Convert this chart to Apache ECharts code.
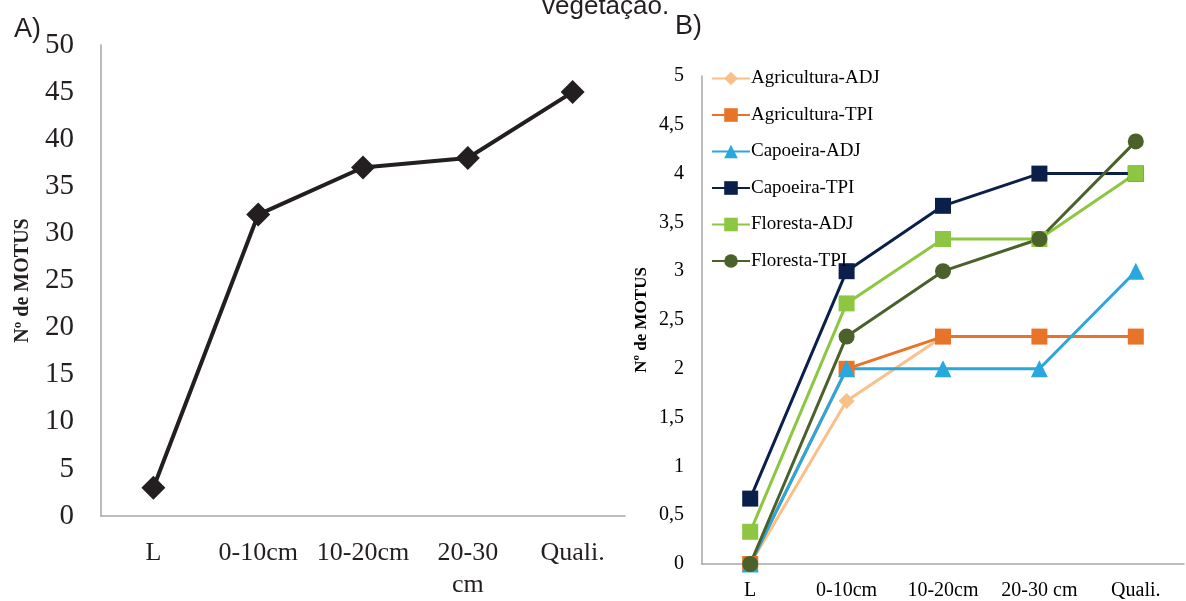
<!DOCTYPE html>
<html>
<head>
<meta charset="utf-8">
<script src="https://cdn.jsdelivr.net/npm/echarts@6/dist/echarts.min.js"></script>
<style>
html, body { margin: 0; padding: 0; background: #fff; }
#main { width: 1186px; height: 601px; }
</style>
</head>
<body>
<div id="main"></div>
<script>
// A) total de MOTUs
var catA = [ 'L', '0-10cm', '10-20cm', '20-30\ncm', 'Quali.' ];
var dataA = [ 3, 32, 37, 38, 45 ];

// B) por vegetação
var catB = [ 'L', '0-10cm', '10-20cm', '20-30 cm', 'Quali.' ];
var names = [ 'Agricultura-ADJ', 'Agricultura-TPI', 'Capoeira-ADJ', 'Capoeira-TPI', 'Floresta-ADJ', 'Floresta-TPI' ];
var agriADJ = [ 0, 1.67, 2.33, 2.33, 2.33 ];
var agriTPI = [ 0, 2, 2.33, 2.33, 2.33 ];
var capADJ = [ 0, 2, 2, 2, 3 ];
var capTPI = [ 0.67, 3, 3.67, 4, 4 ];
var florADJ = [ 0.33, 2.67, 3.33, 3.33, 4 ];
var florTPI = [ 0, 2.33, 3, 3.33, 4.33 ];

var serif = '"Liberation Serif", "DejaVu Serif", serif';
var sans = '"Liberation Sans", Arial, sans-serif';
var axisGray = '#a6a6a6';

var myChart = echarts.init(document.getElementById('main'));

function lineB(name, data, color, symbol, size) {
	return {
		name : name,
		type : 'line',
		xAxisIndex : 1,
		yAxisIndex : 1,
		data : data,
		symbol : symbol,
		symbolSize : size,
		lineStyle : { color : color, width : 3 },
		itemStyle : { color : color },
		animation : false
	};
}

var option = {
	textStyle : { fontFamily : serif },
	title : [ {
		text : 'vegetação.',
		left : 537,
		top : -11,
		textStyle : { fontFamily : sans, fontSize : 26, fontWeight : 'normal', color : '#231f20' }
	}, {
		text : 'A)',
		left : 9,
		top : 11,
		textStyle : { fontFamily : sans, fontSize : 27, fontWeight : 'normal', color : '#231f20' }
	}, {
		text : 'B)',
		left : 670,
		top : 8,
		textStyle : { fontFamily : sans, fontSize : 27, fontWeight : 'normal', color : '#231f20' }
	} ],
	legend : {
		data : names,
		orient : 'vertical',
		left : 706,
		top : 64,
		itemGap : 17.5,
		itemWidth : 38,
		itemHeight : 17,
		textStyle : { fontFamily : serif, fontSize : 19, color : '#000', padding : [ 0, 0, 0, -4 ] }
	},
	grid : [ {
		left : 101,
		top : 45,
		width : 524,
		height : 475,
		containLabel : false
	}, {
		left : 702,
		top : 76,
		width : 482,
		height : 490,
		containLabel : false
	} ],
	xAxis : [ {
		gridIndex : 0,
		type : 'category',
		data : catA,
		boundaryGap : true,
		axisLine : { lineStyle : { color : axisGray, width : 1.5 } },
		axisTick : { show : false },
		axisLabel : { color : '#231f20', fontSize : 26, margin : 21, lineHeight : 32, interval : 0, fontFamily : serif }
	}, {
		gridIndex : 1,
		type : 'category',
		data : catB,
		boundaryGap : true,
		axisLine : { lineStyle : { color : axisGray, width : 1.5 } },
		axisTick : { show : false },
		axisLabel : { color : '#000', fontSize : 20, margin : 17, interval : 0, fontFamily : serif }
	} ],
	yAxis : [ {
		gridIndex : 0,
		type : 'value',
		min : 0,
		max : 50,
		interval : 5,
		name : 'Nº de MOTUS',
		nameLocation : 'middle',
		nameGap : 68,
		nameTextStyle : { fontFamily : serif, fontWeight : 'bold', fontSize : 20, color : '#231f20' },
		axisLine : { show : true, lineStyle : { color : axisGray, width : 1.5 } },
		axisTick : { show : false },
		splitLine : { show : false },
		axisLabel : { color : '#231f20', fontSize : 29, margin : 27, fontFamily : serif }
	}, {
		gridIndex : 1,
		type : 'value',
		min : 0,
		max : 5,
		interval : 0.5,
		name : 'Nº de MOTUS',
		nameLocation : 'middle',
		nameGap : 52,
		nameTextStyle : { fontFamily : serif, fontWeight : 'bold', fontSize : 17, color : '#000' },
		axisLine : { show : true, lineStyle : { color : axisGray, width : 1.5 } },
		axisTick : { show : false },
		splitLine : { show : false },
		axisLabel : {
			color : '#000',
			fontSize : 20,
			margin : 18,
			fontFamily : serif,
			formatter : function(v) {
				return String(v).replace('.', ',');
			}
		}
	} ],
	series : [ {
		name : 'total',
		type : 'line',
		xAxisIndex : 0,
		yAxisIndex : 0,
		data : dataA,
		symbol : 'diamond',
		symbolSize : 24,
		lineStyle : { color : '#231f20', width : 4 },
		itemStyle : { color : '#231f20' },
		animation : false
	},
		lineB(names[0], agriADJ, '#f9c08a', 'diamond', 16),
		lineB(names[1], agriTPI, '#e8742a', 'rect', 16),
		lineB(names[2], capADJ, '#29a7df', 'triangle', 17),
		lineB(names[3], capTPI, '#0b1f4b', 'rect', 16),
		lineB(names[4], florADJ, '#8dc641', 'rect', 16),
		lineB(names[5], florTPI, '#4a612a', 'circle', 16)
	]
};

myChart.setOption(option);
</script>
</body>
</html>
